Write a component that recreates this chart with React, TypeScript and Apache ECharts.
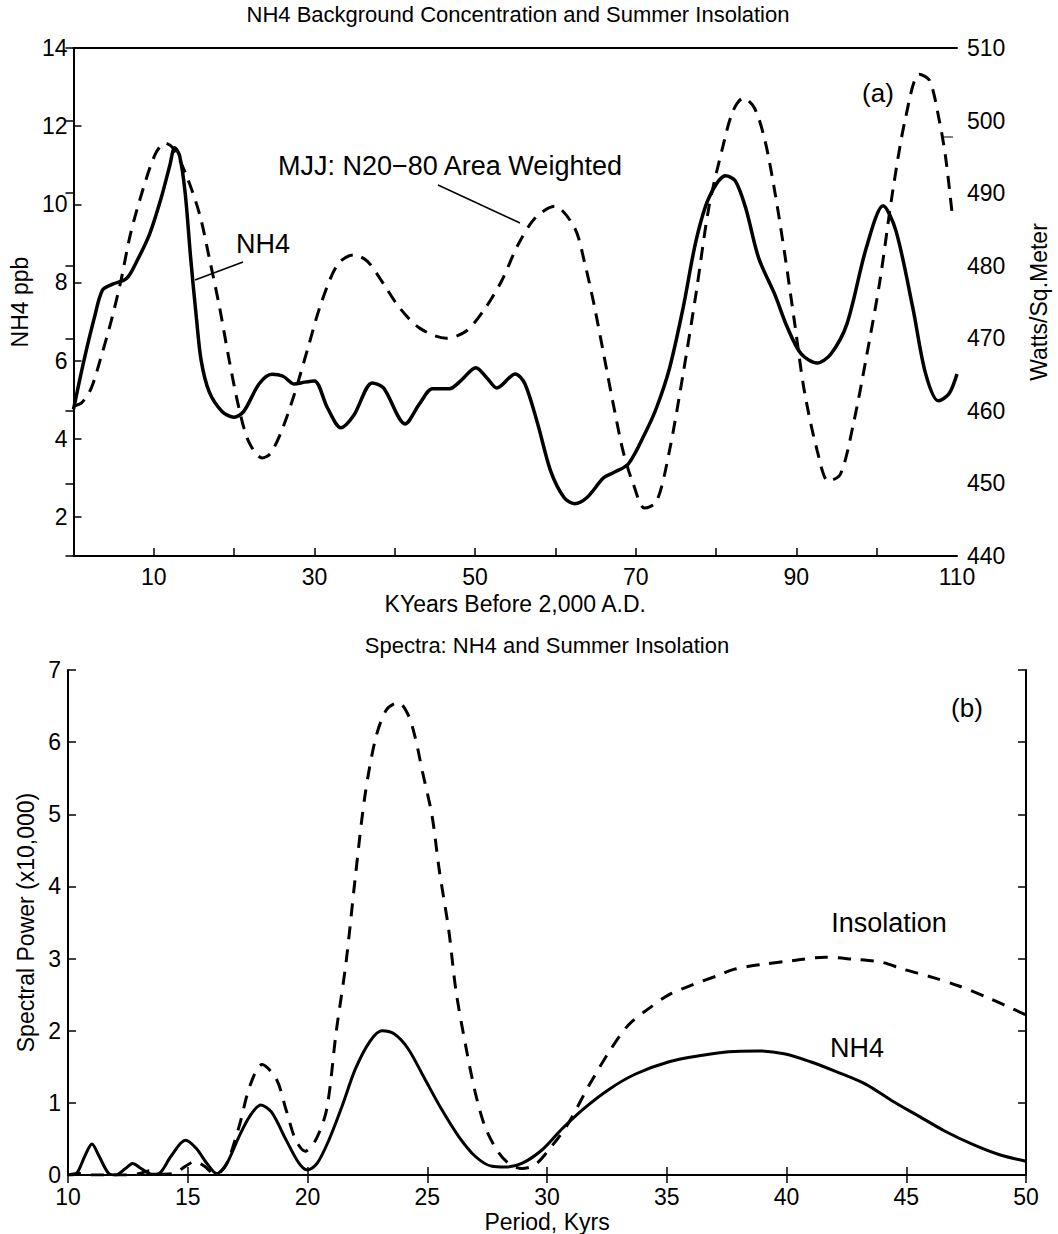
import React, { useEffect, useRef } from "react";
import * as echarts from "echarts";

// ---------- Panel (a): time series ----------
const nh4Years = [0, 1.3, 2.6, 3.6, 4.8, 6.6, 7.9, 9.5, 10.9, 12.0, 12.6, 13.2, 13.9, 14.6, 15.3, 15.9, 16.9, 18.5, 20.0, 21.2, 23.1, 24.7, 26.1, 27.5, 28.8, 30.0, 31.6, 33.3, 34.9, 37.2, 38.6, 41.3, 43.1, 44.7, 46.8, 48.2, 50.1, 51.5, 52.7, 55.0, 56.2, 57.8, 59.4, 61.1, 62.4, 63.9, 66.0, 67.2, 69.1, 71.3, 72.6, 74.2, 75.9, 77.5, 79.1, 81.2, 82.4, 83.7, 85.3, 87.3, 88.9, 90.6, 92.6, 94.3, 96.3, 98.7, 100.8, 102.4, 104.5, 106.1, 107.7, 109.0, 110];
const nh4Ppb = [4.75, 6.0, 7.1, 7.8, 7.95, 8.1, 8.55, 9.25, 10.15, 11.0, 11.45, 11.25, 10.3, 8.6, 7.1, 6.0, 5.2, 4.7, 4.55, 4.7, 5.4, 5.65, 5.6, 5.4, 5.45, 5.48, 4.8, 4.28, 4.6, 5.43, 5.3, 4.38, 4.9, 5.28, 5.28, 5.48, 5.82, 5.55, 5.3, 5.66, 5.41, 4.38, 3.18, 2.49, 2.34, 2.49, 3.0, 3.13, 3.36, 4.2, 4.8, 5.8, 7.35, 9.06, 10.16, 10.73, 10.6, 9.9, 8.63, 7.7, 6.84, 6.17, 5.94, 6.17, 6.94, 8.88, 9.96, 9.32, 7.35, 5.66, 4.97, 5.15, 5.66];

const insolYears = [0, 1, 2.2, 3.4, 4.7, 5.9, 7.1, 8.7, 10.2, 11.4, 12.4, 14.0, 15.7, 16.9, 18.2, 19.4, 20.6, 21.8, 23.5, 24.5, 25.9, 27.5, 29.2, 30.8, 32.9, 34.9, 36.6, 38.6, 40.6, 43.1, 46.4, 48.9, 51.3, 53.3, 55.4, 57.5, 59.9, 62.4, 63.6, 64.8, 66.1, 67.3, 68.5, 69.7, 71.1, 72.6, 74.2, 75.9, 77.5, 79.1, 80.8, 82.1, 83.4, 84.8, 86.1, 87.3, 88.5, 89.8, 91.0, 92.6, 94.0, 95.5, 97.1, 98.7, 100.4, 102.0, 103.6, 105.3, 106.6, 107.8, 108.6, 109.4];
const insolWatts = [460.7, 461.1, 463.1, 467.3, 472.4, 477.9, 484.4, 490.7, 495.4, 496.9, 496.2, 492.6, 487.1, 481.1, 474.2, 466.9, 460.4, 455.8, 453.5, 454.1, 457.2, 462.3, 468.7, 474.7, 480.2, 481.5, 480.6, 477.5, 474.2, 471.4, 470.0, 471.0, 474.2, 477.9, 483.0, 486.6, 488.2, 485.2, 480.6, 474.7, 467.3, 460.4, 454.1, 449.9, 446.6, 447.5, 454.5, 465.1, 476.1, 488.0, 496.2, 501.3, 503.1, 501.7, 497.2, 490.3, 482.0, 472.0, 462.7, 454.5, 450.3, 451.3, 458.2, 467.3, 477.9, 490.3, 500.4, 506.4, 505.5, 500.0, 494.8, 487.1];

const topXTicks = [10, 20, 30, 40, 50, 60, 70, 80, 90, 100];
const topXLabels = [10, 30, 50, 70, 90, 110];
const leftYTicks = [2, 4, 6, 8, 10, 12, 14];

// ---------- Panel (b): spectra ----------
const nh4Period = [10, 10.35, 10.7, 11.0, 11.3, 11.7, 12.0, 12.4, 12.7, 13.05, 13.5, 13.8, 14.3, 14.9, 15.35, 15.8, 16.2, 16.6, 17.15, 17.6, 18.05, 18.5, 19.1, 19.65, 20.0, 20.4, 20.9, 21.45, 22.0, 22.6, 23.1, 23.6, 24.2, 24.9, 25.6, 26.3, 27.0, 27.7, 28.25, 28.95, 29.8, 30.6, 31.5, 32.6, 33.7, 35.1, 36.5, 37.6, 38.8, 39.9, 41.0, 42.1, 43.3, 44.4, 45.5, 46.6, 47.8, 48.9, 50];
const nh4Power = [0, 0.02, 0.26, 0.43, 0.26, 0.02, 0.0, 0.09, 0.16, 0.09, 0.01, 0.02, 0.26, 0.48, 0.37, 0.16, 0.02, 0.14, 0.54, 0.82, 0.97, 0.87, 0.49, 0.16, 0.07, 0.16, 0.49, 0.96, 1.47, 1.85, 2.0, 1.96, 1.75, 1.33, 0.91, 0.54, 0.26, 0.12, 0.11, 0.16, 0.35, 0.63, 0.91, 1.19, 1.4, 1.57, 1.66, 1.71, 1.72, 1.68, 1.57, 1.43, 1.26, 1.03, 0.82, 0.61, 0.42, 0.28, 0.19];

const insolPeriod = [10, 10.5, 11.0, 11.7, 12.4, 13.0, 13.4, 13.8, 14.4, 14.9, 15.3, 15.7, 16.1, 16.4, 16.7, 17.15, 17.6, 18.1, 18.7, 19.1, 19.5, 19.9, 20.35, 20.8, 21.2, 21.6, 22.0, 22.4, 22.85, 23.3, 23.8, 24.2, 24.5, 24.8, 25.2, 25.5, 25.9, 26.2, 26.6, 27.0, 27.4, 27.9, 28.4, 28.95, 29.5, 30.2, 30.9, 31.75, 32.6, 33.4, 34.3, 35.1, 36.1, 37.1, 37.8, 39.0, 40.2, 41.6, 42.8, 43.96, 44.9, 46.1, 47.2, 48.4, 49.2, 50];
const insolPower = [0, 0.02, 0.0, 0.0, 0.0, 0.02, 0.06, 0.01, 0.02, 0.12, 0.19, 0.12, 0.02, 0.05, 0.21, 0.68, 1.24, 1.53, 1.33, 0.91, 0.49, 0.33, 0.49, 0.91, 1.99, 2.92, 4.14, 5.26, 6.06, 6.45, 6.55, 6.38, 6.06, 5.59, 4.98, 4.23, 3.39, 2.55, 1.8, 1.15, 0.68, 0.35, 0.16, 0.09, 0.14, 0.4, 0.72, 1.24, 1.71, 2.08, 2.32, 2.5, 2.64, 2.76, 2.85, 2.92, 2.97, 3.02, 2.99, 2.95, 2.85, 2.74, 2.62, 2.46, 2.34, 2.22];

const FONT = "'Liberation Sans', Arial, Helvetica, sans-serif";
const BLACK = "#000";

const zip = (xs: number[], ys: number[]) => xs.map((x, i) => [x, ys[i]]);

export default function App() {
  const ref = useRef<HTMLDivElement>(null);

  useEffect(() => {
    if (!ref.current) return;
    const chart = echarts.init(ref.current, undefined, { renderer: "svg" });

    const axisLine = { show: true, lineStyle: { color: BLACK, width: 2 } };
    const tickStyle = { color: BLACK, width: 1.5 };
    const labelStyle = { color: BLACK, fontSize: 23, fontFamily: FONT };
    const nameStyle = { color: BLACK, fontSize: 23, fontFamily: FONT };

    const option: any = {
      animation: false,
      backgroundColor: "#fff",
      grid: [
        { left: 69, top: 48, width: 896, height: 508 },
        { left: 68, top: 670, width: 958, height: 506 },
      ],
      xAxis: [
        {
          gridIndex: 0, type: "value", min: 0, max: 110, position: "bottom",
          axisLine,
          axisTick: { show: true, inside: true, length: 8, customValues: topXTicks, lineStyle: tickStyle },
          axisLabel: { ...labelStyle, margin: 9, customValues: topXLabels },
          splitLine: { show: false },
          name: "KYears Before 2,000 A.D.", nameLocation: "middle", nameGap: 36, nameTextStyle: nameStyle,
        },
        {
          gridIndex: 0, type: "value", min: 0, max: 110, position: "top",
          axisLine, axisTick: { show: false }, axisLabel: { show: false }, splitLine: { show: false },
        },
        {
          gridIndex: 1, type: "value", min: 10, max: 50, interval: 5, position: "bottom",
          axisLine,
          axisTick: { show: true, inside: true, length: 8, lineStyle: tickStyle },
          axisLabel: { ...labelStyle, margin: 10 },
          splitLine: { show: false },
          name: "Period, Kyrs", nameLocation: "middle", nameGap: 35, nameTextStyle: nameStyle,
        },
        {
          gridIndex: 1, type: "value", min: 10, max: 50, interval: 5, position: "top",
          axisLine,
          axisTick: { show: true, inside: true, length: 8, lineStyle: tickStyle },
          axisLabel: { show: false }, splitLine: { show: false },
        },
      ],
      yAxis: [
        {
          gridIndex: 0, type: "value", min: 1, max: 14, position: "left",
          axisLine,
          axisTick: { show: true, inside: true, length: 8, customValues: leftYTicks, lineStyle: tickStyle },
          axisLabel: { ...labelStyle, margin: 6, customValues: leftYTicks },
          splitLine: { show: false },
          name: "NH4 ppb", nameLocation: "middle", nameGap: 37, nameTextStyle: nameStyle,
        },
        {
          gridIndex: 0, type: "value", min: 440, max: 510, interval: 10, position: "right",
          axisLine,
          axisTick: { show: true, inside: true, length: 8, lineStyle: tickStyle },
          axisLabel: { ...labelStyle, margin: 10 },
          splitLine: { show: false },
          name: "Watts/Sq.Meter", nameLocation: "middle", nameGap: 70, nameTextStyle: nameStyle,
        },
        {
          gridIndex: 1, type: "value", min: 0, max: 7, interval: 1, position: "left",
          axisLine,
          axisTick: { show: true, inside: true, length: 8, lineStyle: tickStyle },
          axisLabel: { ...labelStyle, margin: 7 },
          splitLine: { show: false },
          name: "Spectral Power (x10,000)", nameLocation: "middle", nameGap: 22, nameTextStyle: nameStyle,
        },
        {
          gridIndex: 1, type: "value", min: 0, max: 7, interval: 1, position: "right",
          axisLine,
          axisTick: { show: true, inside: true, length: 8, lineStyle: tickStyle },
          axisLabel: { show: false }, splitLine: { show: false },
        },
      ],
      series: [
        {
          name: "NH4", type: "line", xAxisIndex: 0, yAxisIndex: 0,
          data: zip(nh4Years, nh4Ppb), smooth: 0.3, showSymbol: false,
          lineStyle: { color: BLACK, width: 3.5 }, z: 3,
        },
        {
          name: "MJJ Insolation", type: "line", xAxisIndex: 0, yAxisIndex: 1,
          data: zip(insolYears, insolWatts), smooth: 0.3, showSymbol: false,
          lineStyle: { color: BLACK, width: 3, type: [13, 9] }, z: 2,
        },
        {
          name: "NH4 spectrum", type: "line", xAxisIndex: 2, yAxisIndex: 2,
          data: zip(nh4Period, nh4Power), smooth: 0.3, showSymbol: false,
          lineStyle: { color: BLACK, width: 3 }, z: 3,
        },
        {
          name: "Insolation spectrum", type: "line", xAxisIndex: 2, yAxisIndex: 2,
          data: zip(insolPeriod, insolPower), smooth: 0.3, showSymbol: false,
          lineStyle: { color: BLACK, width: 3, type: [13, 10] }, z: 2,
        },
      ],
      graphic: [
        {
          type: "text", x: 518, y: 14,
          style: { text: "NH4 Background Concentration and Summer Insolation", fill: BLACK, font: `22px ${FONT}`, align: "center", verticalAlign: "middle" },
        },
        {
          type: "text", x: 547, y: 645,
          style: { text: "Spectra: NH4 and Summer Insolation", fill: BLACK, font: `22px ${FONT}`, align: "center", verticalAlign: "middle" },
        },
        {
          type: "text", x: 278, y: 166,
          style: { text: "MJJ: N20\u221280 Area Weighted", fill: BLACK, font: `27px ${FONT}`, align: "left", verticalAlign: "middle" },
        },
        { type: "line", shape: { x1: 438, y1: 185, x2: 520, y2: 223 }, style: { stroke: BLACK, lineWidth: 1.5 } },
        {
          type: "text", x: 263, y: 244,
          style: { text: "NH4", fill: BLACK, font: `27px ${FONT}`, align: "center", verticalAlign: "middle" },
        },
        { type: "line", shape: { x1: 243, y1: 262, x2: 195, y2: 280 }, style: { stroke: BLACK, lineWidth: 1.5 } },
        {
          type: "text", x: 878, y: 93,
          style: { text: "(a)", fill: BLACK, font: `26px ${FONT}`, align: "center", verticalAlign: "middle" },
        },
        { type: "line", shape: { x1: 943, y1: 137, x2: 953, y2: 137 }, style: { stroke: BLACK, lineWidth: 1 } },
        {
          type: "text", x: 967, y: 708,
          style: { text: "(b)", fill: BLACK, font: `26px ${FONT}`, align: "center", verticalAlign: "middle" },
        },
        {
          type: "text", x: 889, y: 923,
          style: { text: "Insolation", fill: BLACK, font: `27px ${FONT}`, align: "center", verticalAlign: "middle" },
        },
        {
          type: "text", x: 857, y: 1048,
          style: { text: "NH4", fill: BLACK, font: `27px ${FONT}`, align: "center", verticalAlign: "middle" },
        },
      ],
    };

    chart.setOption(option);
    return () => chart.dispose();
  }, []);

  return (
    <div
      ref={ref}
      style={{ position: "fixed", left: 0, top: 0, width: 1058, height: 1234, background: "#fff" }}
    />
  );
}
